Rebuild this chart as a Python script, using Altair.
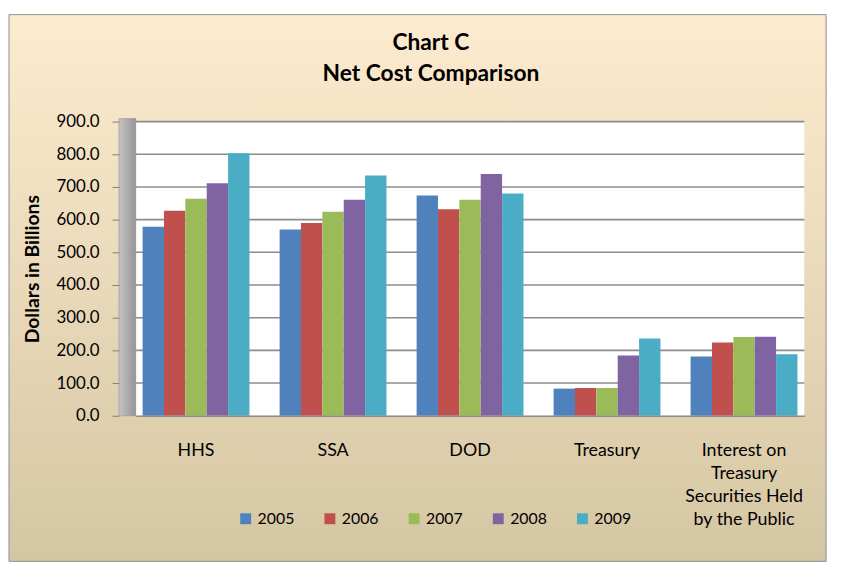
import altair as alt
import pandas as pd

categories = ["HHS", "SSA", "DOD", "Treasury",
              "Interest on Treasury Securities Held by the Public"]
years = ["2005", "2006", "2007", "2008", "2009"]
hhs = [578, 627, 664, 711, 803]
ssa = [570, 590, 624, 661, 735]
dod = [674, 632, 661, 740, 680]
treasury = [83, 85, 85, 184, 236]
interest = [181, 224, 241, 242, 188]
colors = ["#4F81BD", "#C0504D", "#9BBB59", "#8064A2", "#4BACC6"]
y_ticks = [0, 100, 200, 300, 400, 500, 600, 700, 800, 900]
title_lines = ["Chart C", "Net Cost Comparison"]

series = [hhs, ssa, dod, treasury, interest]
rows = []
for cat, vals in zip(categories, series):
    for yr, v in zip(years, vals):
        rows.append({"Agency": cat, "Year": yr, "Value": v})
df = pd.DataFrame(rows)

W, H = 675, 297
one = pd.DataFrame({"a": [0]})

bg = alt.Chart(one).mark_rect(
    fill=alt.Gradient(gradient="linear", x1=0, y1=0, x2=0, y2=1,
                      stops=[alt.GradientStop(offset=0, color="#FDEBCF"),
                             alt.GradientStop(offset=1, color="#D5C6A3")]),
    stroke="#8E8E8E", strokeWidth=1
).encode(x=alt.value(-128), x2=alt.value(697), y=alt.value(-108), y2=alt.value(444))

plotbg = alt.Chart(one).mark_rect(fill="white").encode(
    x=alt.value(0), x2=alt.value(W), y=alt.value(0), y2=alt.value(H))

wall = alt.Chart(one).mark_rect(
    fill=alt.Gradient(gradient="linear", x1=0, y1=0, x2=1, y2=0,
                      stops=[alt.GradientStop(offset=0, color="#C4C4C4"),
                             alt.GradientStop(offset=1, color="#959595")]),
    stroke="#8A8A8A", strokeWidth=0.5
).encode(x=alt.value(-17), x2=alt.value(0), y=alt.value(-3), y2=alt.value(H))

y_axis = alt.Axis(title="Dollars in Billions", values=y_ticks, format=".1f",
                  grid=False, domain=False, offset=17, tickSize=7,
                  tickColor="#808080", labelPadding=13, labelFontSize=17,
                  labelColor="#000000", titleFontSize=19.5, titleFontWeight="bold",
                  titlePadding=14, titleColor="#000000", zindex=1)
y_scale = alt.Scale(domain=[0, 900], nice=False)

grid = alt.Chart(pd.DataFrame({"Value": y_ticks[1:]})).mark_rule(
    color="#8C8C8C", strokeWidth=1.6
).encode(y=alt.Y("Value:Q", scale=y_scale, axis=y_axis), x=alt.value(0), x2=alt.value(W))

label_expr = ("datum.value == 'Interest on Treasury Securities Held by the Public' ? "
              "['Interest on', 'Treasury', 'Securities Held', 'by the Public'] : datum.label")

bars = alt.Chart(df).mark_bar().encode(
    x=alt.X("Agency:N", sort=categories,
            scale=alt.Scale(paddingInner=0.22, paddingOuter=0.05),
            axis=alt.Axis(title=None, labelAngle=0, ticks=False, labelPadding=26,
                          labelBaseline="top", labelFontSize=18, labelLineHeight=23.3,
                          labelExpr=label_expr, domainColor="#8C8C8C", domainWidth=1.5,
                          labelColor="#000000", zindex=1, labelLimit=200)),
    xOffset=alt.XOffset("Year:N", sort=years, scale=alt.Scale(paddingInner=0, paddingOuter=0)),
    y=alt.Y("Value:Q", scale=y_scale, axis=y_axis),
    color=alt.Color("Year:N", sort=years,
                    scale=alt.Scale(domain=years, range=colors),
                    legend=alt.Legend(title=None, orient="none", direction="horizontal",
                                      legendX=103, legendY=393, symbolType="square",
                                      symbolSize=121, symbolStrokeWidth=0,
                                      labelFontSize=16, columnPadding=27,
                                      labelColor="#000000", zindex=1)),
)

t1 = alt.Chart(one).mark_text(fontSize=23, fontWeight="bold", color="#000000",
                              align="center", baseline="middle").encode(
    x=alt.value(298), y=alt.value(-79), text=alt.value(title_lines[0]))
t2 = alt.Chart(one).mark_text(fontSize=23, fontWeight="bold", color="#000000",
                              align="center", baseline="middle").encode(
    x=alt.value(298), y=alt.value(-48), text=alt.value(title_lines[1]))

chart = alt.layer(bg, plotbg, wall, grid, bars, t1, t2).properties(
    width=W, height=H,
    autosize=alt.AutoSizeParams(type="none"),
    padding={"left": 129, "top": 112, "right": 32, "bottom": 148},
).configure(font="Lato", background="#FFFFFF").configure_view(strokeWidth=0)

chart.save("out.html", embed_options={"renderer": "svg", "actions": False})
